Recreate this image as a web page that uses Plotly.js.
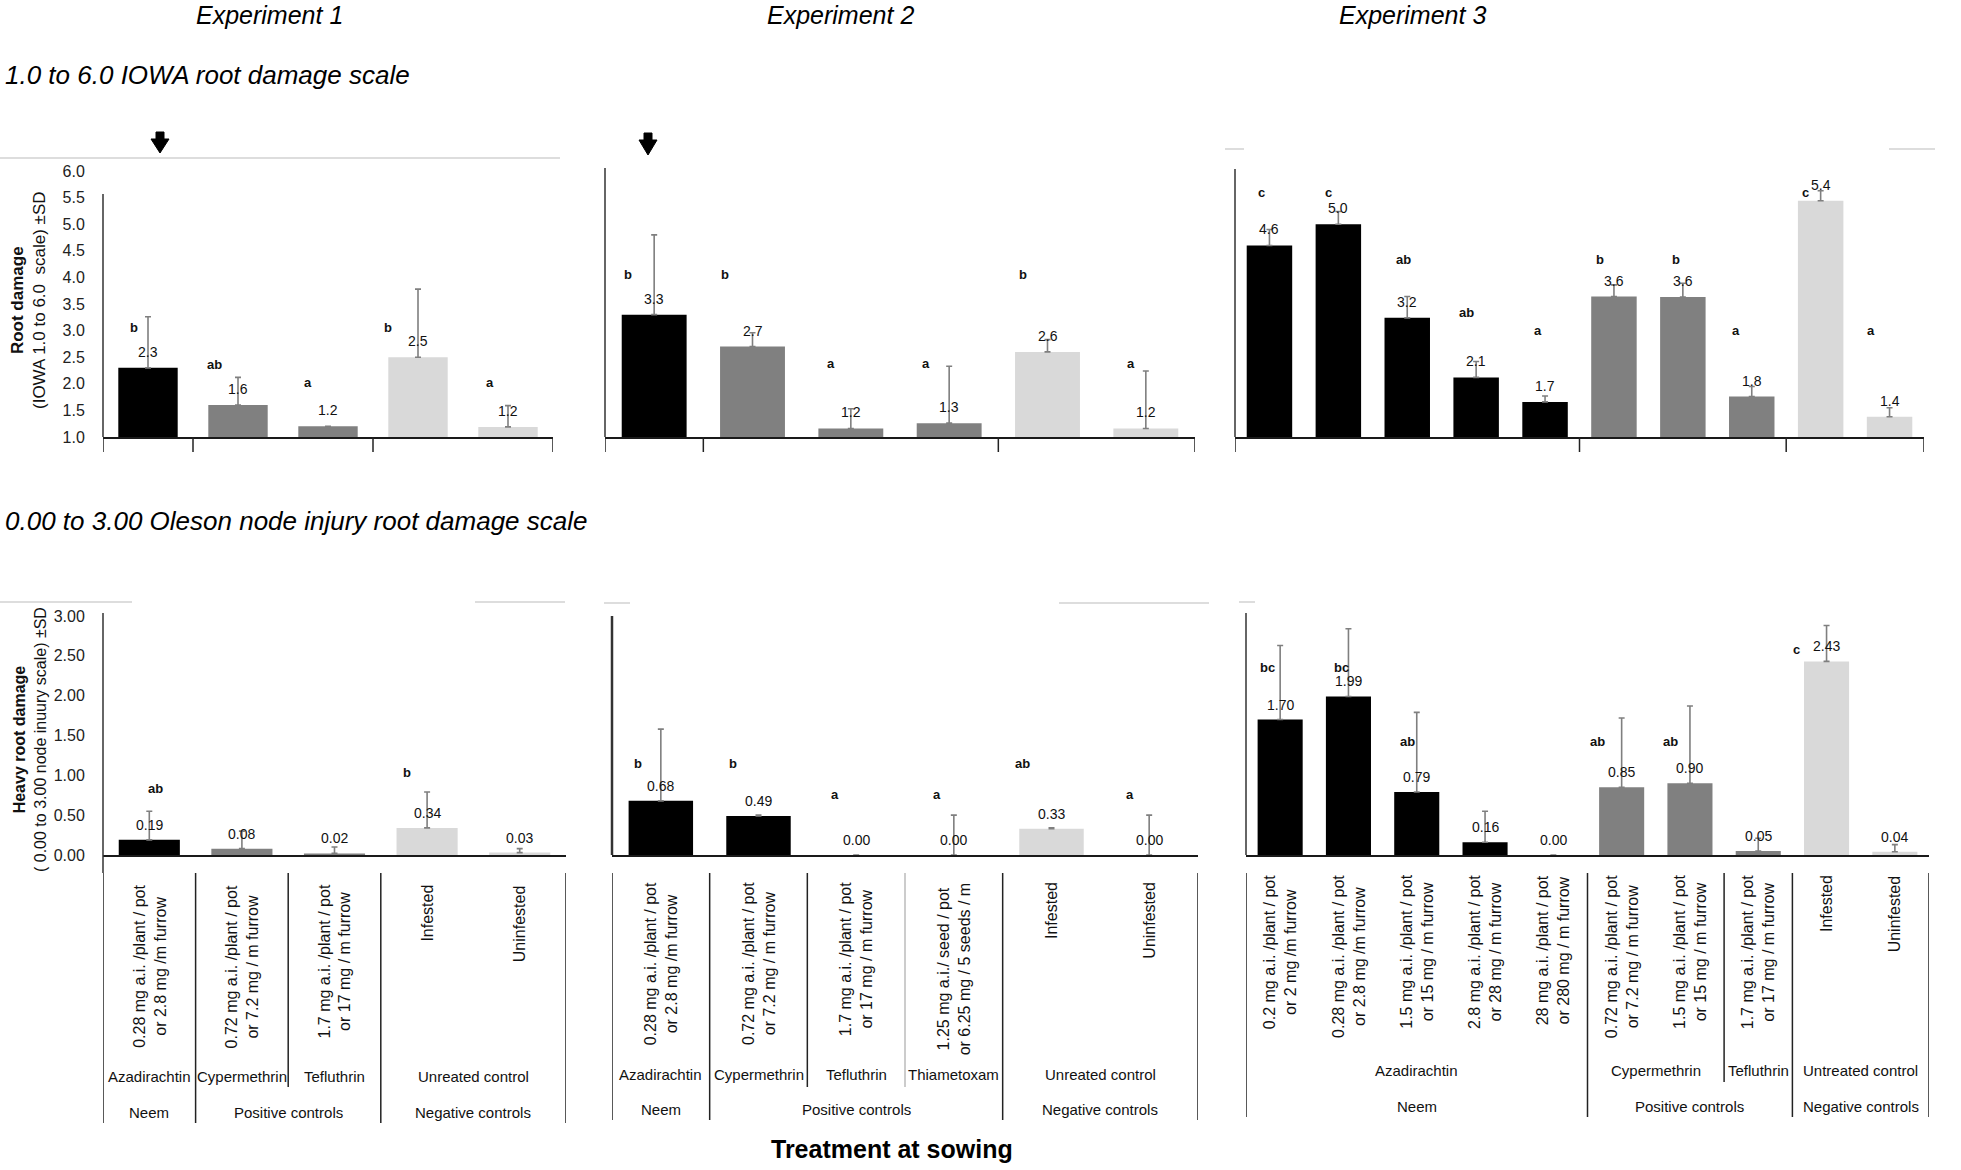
<!DOCTYPE html>
<html><head><meta charset="utf-8">
<script src="https://cdn.plot.ly/plotly-3.0.1.min.js"></script>
<style>html,body{margin:0;padding:0;background:#fff;} #chart{width:1961px;height:1170px;}</style>
</head><body><div id="chart"></div>
<script>
// ================= DATA =================
const exp1Treatments = [
  "0.28 mg a.i. /plant / pot<br>or 2.8 mg /m furrow",
  "0.72 mg a.i. /plant / pot<br>or 7.2 mg / m furrow",
  "1.7 mg a.i. /plant / pot<br>or 17 mg / m furrow",
  "Infested", "Uninfested"];
const exp1Products = ["Azadirachtin", "Cypermethrin", "Tefluthrin", "Unreated control"];
const exp1ProductSpans = [[0,0],[1,1],[2,2],[3,4]];
const exp1Groups = ["Neem", "Positive controls", "Negative controls"];
const exp1GroupSpans = [[0,0],[1,2],[3,4]];
const exp1IowaMean = [2.3, 1.6, 1.2, 2.5, 1.19];
const exp1IowaSD = [0.96, 0.52, 0, 1.28, 0.4];
const exp1IowaLetters = ["b", "ab", "a", "b", "a"];
const exp1OlesonMean = [0.19, 0.08, 0.02, 0.34, 0.03];
const exp1OlesonSD = [0.36, 0.22, 0.08, 0.45, 0.05];
const exp1OlesonLetters = ["ab", "", "", "b", ""];

const exp2Treatments = [
  "0.28 mg a.i. /plant / pot<br>or 2.8 mg /m furrow",
  "0.72 mg a.i. /plant / pot<br>or 7.2 mg / m furrow",
  "1.7 mg a.i. /plant / pot<br>or 17 mg / m furrow",
  "1.25 mg a.i./ seed / pot<br>or 6.25 mg / 5 seeds / m",
  "Infested", "Uninfested"];
const exp2Products = ["Azadirachtin", "Cypermethrin", "Tefluthrin", "Thiametoxam", "Unreated control"];
const exp2ProductSpans = [[0,0],[1,1],[2,2],[3,3],[4,5]];
const exp2Groups = ["Neem", "Positive controls", "Negative controls"];
const exp2GroupSpans = [[0,0],[1,3],[4,5]];
const exp2IowaMean = [3.3, 2.7, 1.16, 1.26, 2.6, 1.16];
const exp2IowaSD = [1.5, 0.26, 0.37, 1.07, 0.23, 1.08];
const exp2IowaLetters = ["b", "b", "a", "a", "b", "a"];
const exp2OlesonMean = [0.68, 0.49, 0.00, 0.00, 0.33, 0.00];
const exp2OlesonSD = [0.9, 0.01, 0, 0.5, 0.01, 0.5];
const exp2OlesonLetters = ["b", "b", "a", "a", "ab", "a"];

const exp3Treatments = [
  "0.2 mg a.i. /plant / pot<br>or 2 mg /m furrow",
  "0.28 mg a.i. /plant / pot<br>or 2.8 mg /m furrow",
  "1.5 mg a.i. /plant / pot<br>or 15 mg / m furrow",
  "2.8 mg a.i. /plant / pot<br>or 28 mg / m furrow",
  "28 mg a.i. /plant / pot<br>or 280 mg / m furrow",
  "0.72 mg a.i. /plant / pot<br>or 7.2 mg / m furrow",
  "1.5 mg a.i. /plant / pot<br>or 15 mg / m furrow",
  "1.7 mg a.i. /plant / pot<br>or 17 mg / m furrow",
  "Infested", "Uninfested"];
const exp3Products = ["Azadirachtin", "Cypermethrin", "Tefluthrin", "Untreated control"];
const exp3ProductSpans = [[0,4],[5,6],[7,7],[8,9]];
const exp3Groups = ["Neem", "Positive controls", "Negative controls"];
const exp3GroupSpans = [[0,4],[5,7],[8,9]];
const exp3IowaMean = [4.6, 5.0, 3.24, 2.12, 1.66, 3.64, 3.63, 1.76, 5.44, 1.38];
const exp3IowaSD = [0.3, 0.24, 0.4, 0.3, 0.11, 0.22, 0.26, 0.19, 0.19, 0.17];
const exp3IowaLetters = ["c", "c", "ab", "ab", "a", "b", "b", "a", "c", "a"];
const exp3OlesonMean = [1.70, 1.99, 0.79, 0.16, 0.00, 0.85, 0.90, 0.05, 2.43, 0.04];
const exp3OlesonSD = [0.93, 0.85, 1.0, 0.39, 0, 0.87, 0.97, 0.16, 0.45, 0.09];
const exp3OlesonLetters = ["bc", "bc", "ab", "", "", "ab", "ab", "", "c", ""];

const experimentTitles = ["Experiment 1", "Experiment 2", "Experiment 3"];
const iowaTicks = [1.0, 1.5, 2.0, 2.5, 3.0, 3.5, 4.0, 4.5, 5.0, 5.5, 6.0];
const olesonTicks = [0.00, 0.50, 1.00, 1.50, 2.00, 2.50, 3.00];

// ================= STYLE / LAYOUT =================
const W = 1961, H = 1170;
const fx = p => p / W;
const fy = p => 1 - p / H;
const FONT = 'Liberation Sans, Arial, sans-serif';
const K = '#000000', G = '#808080', L = '#d9d9d9';

// letter label placement (offset in category units, height in data units)
const place = {
  p1: {dx: [-0.16,-0.26,-0.22,-0.33,-0.2], ly: [3.05,2.37,2.03,3.05,2.03]},
  p2: {dx: [-0.27,-0.28,-0.2,-0.24,-0.25,-0.15], ly: [4.05,4.05,2.39,2.39,4.05,2.39]},
  p3: {dx: [-0.12,-0.15,-0.06,-0.14,-0.1,-0.2,-0.1,-0.23,-0.22,-0.27], ly: [5.6,5.6,4.33,3.34,3.01,4.33,4.33,3.01,5.6,3.01]},
  p4: {dx: [0.07,0,0,-0.22,0], ly: [0.83,0,0,1.03,0]},
  p5: {dx: [-0.23,-0.26,-0.22,-0.17,-0.3,-0.2], ly: [1.145,1.145,0.76,0.76,1.145,0.76]},
  p6: {dx: [-0.19,-0.1,-0.14,0,0,-0.35,-0.29,0,-0.44,0], ly: [2.35,2.35,1.43,0,0,1.43,1.43,0,2.58,0]}
};

const panels = [
  {k:1, x:[103,553],  y:[171,437], range:[1,6], mean:exp1IowaMean, sd:exp1IowaSD, letters:exp1IowaLetters, colors:[K,G,G,L,L], dec:1, ticks:true, axTop:194},
  {k:2, x:[605,1195], y:[171,437], range:[1,6], mean:exp2IowaMean, sd:exp2IowaSD, letters:exp2IowaLetters, colors:[K,G,G,G,L,L], dec:1, axTop:168},
  {k:3, x:[1235,1924],y:[171,437], range:[1,6], mean:exp3IowaMean, sd:exp3IowaSD, letters:exp3IowaLetters, colors:[K,K,K,K,K,G,G,G,L,L], dec:1, axTop:169},
  {k:4, x:[103,566],  y:[616,855], range:[0,3], mean:exp1OlesonMean, sd:exp1OlesonSD, letters:exp1OlesonLetters, colors:[K,G,G,L,L], dec:2, ticks:true, axTop:613, axBot:873},
  {k:5, x:[612,1198], y:[616,855], range:[0,3], mean:exp2OlesonMean, sd:exp2OlesonSD, letters:exp2OlesonLetters, colors:[K,K,G,G,L,L], dec:2, axTop:616, axW:2.5},
  {k:6, x:[1246,1929],y:[616,855], range:[0,3], mean:exp3OlesonMean, sd:exp3OlesonSD, letters:exp3OlesonLetters, colors:[K,K,K,K,K,G,G,G,L,L], dec:2, axTop:613}
];

const exps = [
  {treat:exp1Treatments, prod:exp1Products, prodSpan:exp1ProductSpans, grp:exp1Groups, grpSpan:exp1GroupSpans, top:883, l2:1076, l3:1112, divBot:1123, shortBot:1087},
  {treat:exp2Treatments, prod:exp2Products, prodSpan:exp2ProductSpans, grp:exp2Groups, grpSpan:exp2GroupSpans, top:880, l2:1074, l3:1109, divBot:1120, shortBot:1087},
  {treat:exp3Treatments, prod:exp3Products, prodSpan:exp3ProductSpans, grp:exp3Groups, grpSpan:exp3GroupSpans, top:873, l2:1070, l3:1106, divBot:1117, shortBot:1082}
];

const data = [];
const layout = {
  width: W, height: H, margin: {l:0, r:0, t:0, b:0},
  paper_bgcolor: '#fff', plot_bgcolor: 'rgba(0,0,0,0)',
  showlegend: false, font: {family: FONT, color: '#000'},
  annotations: [], shapes: []
};

panels.forEach((p, idx) => {
  const n = p.mean.length;
  const xs = p.mean.map((_, i) => i);
  const xn = 'x' + (p.k === 1 ? '' : p.k), yn = 'y' + (p.k === 1 ? '' : p.k);
  data.push({
    type: 'bar', x: xs, y: p.mean, xaxis: xn, yaxis: yn, width: 0.66,
    marker: {color: p.colors, line: {width: 0}},
    error_y: {type: 'data', symmetric: false, array: p.sd, arrayminus: p.sd.map(() => 0),
              color: '#7f7f7f', thickness: 1.6, width: 3},
    hoverinfo: 'skip'
  });
  const xa = {
    domain: [fx(p.x[0]), fx(p.x[1])], range: [-0.5, n - 0.5], anchor: yn,
    showticklabels: false, showgrid: false, zeroline: false, ticks: '',
    showline: true, linecolor: '#1a1a1a', linewidth: 2
  };
  const ya = {
    domain: [fy(p.y[1]), fy(p.y[0])], range: p.range, anchor: xn,
    showgrid: false, zeroline: false, showline: false, showticklabels: false
  };
  if (p.ticks) {
    Object.assign(ya, {
      showticklabels: true, tickvals: p.dec === 1 ? iowaTicks : olesonTicks,
      ticktext: (p.dec === 1 ? iowaTicks : olesonTicks).map(v => v.toFixed(p.dec)),
      ticks: 'outside', ticklen: 14, tickcolor: 'rgba(0,0,0,0)',
      tickfont: {family: FONT, size: 16, color: '#222'}
    });
  }
  layout['xaxis' + (p.k === 1 ? '' : p.k)] = xa;
  layout['yaxis' + (p.k === 1 ? '' : p.k)] = ya;

  // y axis line
  layout.shapes.push({type: 'line', xref: 'paper', yref: 'paper',
    x0: fx(p.x[0]), x1: fx(p.x[0]), y0: fy(p.axTop), y1: fy(p.axBot || p.y[1]),
    line: {color: '#333', width: p.axW || 1.5}});

  // value labels and letters
  const pl = place['p' + p.k];
  p.mean.forEach((v, i) => {
    layout.annotations.push({xref: xn, yref: yn, x: i, y: v, yshift: p.dec === 1 ? 16 : 15,
      xanchor: 'center', yanchor: 'middle',
      text: v.toFixed(p.dec), showarrow: false, font: {size: 14, color: '#111'}});
    if (p.letters[i]) {
      layout.annotations.push({xref: xn, yref: yn, x: i + pl.dx[i], y: pl.ly[i],
        xanchor: 'center', yanchor: 'middle',
        text: '<b>' + p.letters[i] + '</b>', showarrow: false, font: {size: 13, color: '#111'}});
    }
  });

  // top panels: short divider ticks below the axis at group boundaries
  if (p.k <= 3) {
    const e = exps[idx];
    const b = [-0.5].concat(e.grpSpan.map(s => s[1] + 0.5));
    b.forEach(bx => layout.shapes.push({type: 'line', xref: xn, yref: 'paper',
      x0: bx, x1: bx, y0: fy(437), y1: fy(452), line: {color: '#222', width: 1.5}}));
  }
});

// bottom category label area
exps.forEach((e, j) => {
  const k = j + 4;
  const xn = 'x' + k;
  e.treat.forEach((t, i) => {
    layout.annotations.push({xref: xn, yref: 'paper', x: i, y: fy(e.top), xanchor: 'center', yanchor: 'top',
      textangle: -90, align: 'center', text: t, showarrow: false, font: {size: 16, color: '#111'}});
  });
  e.prod.forEach((t, i) => {
    const s = e.prodSpan[i];
    layout.annotations.push({xref: xn, yref: 'paper', x: (s[0] + s[1]) / 2, y: fy(e.l2),
      xanchor: 'center', yanchor: 'middle',
      text: t, showarrow: false, font: {size: 15, color: '#111'}});
  });
  e.grp.forEach((t, i) => {
    const s = e.grpSpan[i];
    layout.annotations.push({xref: xn, yref: 'paper', x: (s[0] + s[1]) / 2, y: fy(e.l3),
      xanchor: 'center', yanchor: 'middle',
      text: t, showarrow: false, font: {size: 15, color: '#111'}});
  });
  const groupB = [-0.5].concat(e.grpSpan.map(s => s[1] + 0.5));
  groupB.forEach(bx => layout.shapes.push({type: 'line', xref: xn, yref: 'paper',
    x0: bx, x1: bx, y0: fy(873), y1: fy(e.divBot), line: {color: '#222', width: 1.5}}));
  e.prodSpan.forEach(s => {
    const bx = s[1] + 0.5;
    if (!groupB.includes(bx)) {
      const light = (j === 1 && bx === 2.5);
      layout.shapes.push({type: 'line', xref: xn, yref: 'paper',
        x0: bx, x1: bx, y0: fy(873), y1: fy(e.shortBot), line: {color: light ? '#bbbbbb' : '#222', width: 1.5}});
    }
  });
});

// decorative light-grey rules from the source layout
[[0,560,158],[1225,1244,149],[1889,1935,149],[0,132,602],[475,565,602],[604,630,603],[1059,1209,603],[1239,1255,602]]
  .forEach(r => layout.shapes.push({type: 'line', xref: 'paper', yref: 'paper',
    x0: fx(r[0]), x1: fx(r[1]), y0: fy(r[2]), y1: fy(r[2]), line: {color: '#d2d2d2', width: 1.5}}));

// bold down arrows (stem + head) drawn as filled paths
function arrowPath(cx, top, headTop, tip) {
  const pts = [[cx-4, top], [cx+4, top], [cx+4, headTop], [cx+9, headTop], [cx, tip], [cx-9, headTop], [cx-4, headTop]];
  return 'M' + pts.map(q => fx(q[0]) + ',' + fy(q[1])).join(' L') + ' Z';
}
[[160,132,139,153],[648,133,140,155]].forEach(a => layout.shapes.push({type: 'path', xref: 'paper', yref: 'paper',
  path: arrowPath(a[0], a[1], a[2], a[3]), fillcolor: '#000', line: {color: '#000', width: 1}}));

// headings
[[269, experimentTitles[0]], [840, experimentTitles[1]], [1412, experimentTitles[2]]].forEach(h =>
  layout.annotations.push({xref: 'paper', yref: 'paper', x: fx(h[0]), y: fy(15), xanchor: 'center', yanchor: 'middle',
    text: '<i>' + h[1] + '</i>', showarrow: false, font: {size: 25, color: '#000'}}));
layout.annotations.push({xref: 'paper', yref: 'paper', x: fx(3), y: fy(75), xanchor: 'left', yanchor: 'middle',
  text: '<i>1.0 to 6.0 IOWA root damage scale</i>', showarrow: false, font: {size: 26, color: '#000'}});
layout.annotations.push({xref: 'paper', yref: 'paper', x: fx(3), y: fy(521), xanchor: 'left', yanchor: 'middle',
  text: '<i>0.00 to 3.00 Oleson node injury root damage scale</i>', showarrow: false, font: {size: 26, color: '#000'}});
layout.annotations.push({xref: 'paper', yref: 'paper', x: fx(892), y: fy(1149), xanchor: 'center', yanchor: 'middle',
  text: '<b>Treatment at sowing</b>', showarrow: false, font: {size: 25, color: '#000'}});

// y-axis titles
layout.annotations.push({xref: 'paper', yref: 'paper', x: fx(28), y: fy(300), xanchor: 'center', yanchor: 'middle',
  textangle: -90, align: 'center', showarrow: false, font: {size: 17, color: '#111'},
  text: '<b>Root damage</b><br>(IOWA 1.0 to 6.0  scale) ±SD'});
layout.annotations.push({xref: 'paper', yref: 'paper', x: fx(30), y: fy(740), xanchor: 'center', yanchor: 'middle',
  textangle: -90, align: 'center', showarrow: false, font: {size: 16, color: '#111'},
  text: '<b>Heavy root damage</b><br>( 0.00 to 3.00 node inuury scale) ±SD'});

Plotly.newPlot('chart', data, layout, {staticPlot: true, displayModeBar: false});
</script>
</body></html>
